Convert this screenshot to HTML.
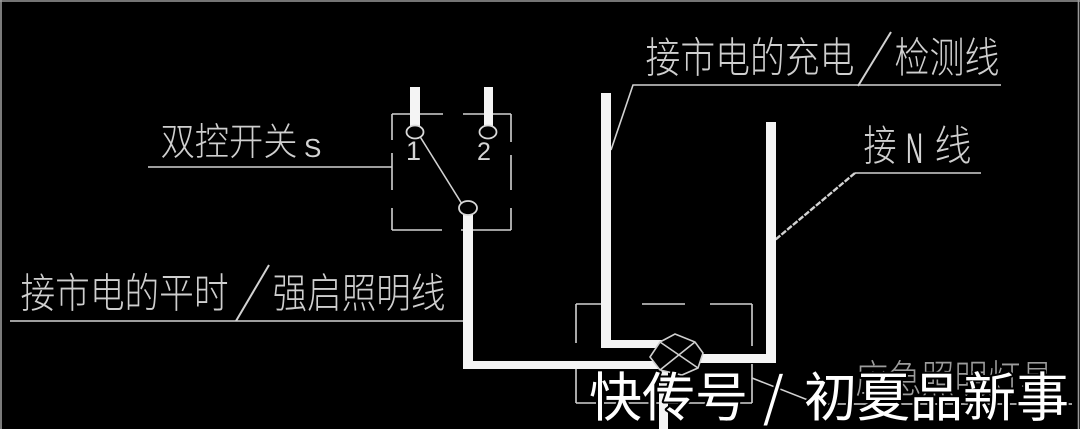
<!DOCTYPE html>
<html><head><meta charset="utf-8"><style>
html,body{margin:0;padding:0;background:#000;}
svg{display:block;}
.cad{font-family:"Noto Sans CJK SC","WenQuanYi Zen Hei",sans-serif;fill:#cfcfcf;font-weight:300;}
.lat{font-family:"Liberation Sans",sans-serif;fill:#d4d4d4;}
.wm{font-family:"Liberation Sans","Noto Sans CJK SC",sans-serif;fill:#fff;stroke:#000;stroke-width:4;paint-order:stroke;stroke-linejoin:round;}
.wms{font-family:"Noto Sans CJK SC",sans-serif;fill:#fff;stroke:#000;stroke-width:4;paint-order:stroke;stroke-linejoin:round;}
</style></head><body>
<svg width="1080" height="429" viewBox="0 0 1080 429" xmlns="http://www.w3.org/2000/svg">
<rect x="0" y="0" width="1080" height="429" fill="#000"/>
<!-- frame -->
<g stroke="#9a9a9a" stroke-width="1.6" fill="none">
<line x1="0" y1="1" x2="1080" y2="1"/>
<line x1="1" y1="0" x2="1" y2="429"/>
<line x1="1078.5" y1="0" x2="1078.5" y2="429"/>
</g>

<!-- thin lines -->
<g stroke="#d2d2d2" stroke-width="1.6" fill="none">
<line x1="148" y1="167" x2="392" y2="167"/>
<line x1="392" y1="114" x2="443" y2="114"/>
<line x1="463" y1="114" x2="511" y2="114"/>
<line x1="392" y1="230" x2="442" y2="230"/>
<line x1="461" y1="230" x2="511" y2="230"/>
<line x1="392" y1="114" x2="392" y2="140"/>
<line x1="392" y1="153" x2="392" y2="190"/>
<line x1="392" y1="208" x2="392" y2="230"/>
<line x1="511" y1="114" x2="511" y2="142"/>
<line x1="511" y1="155" x2="511" y2="190"/>
<line x1="511" y1="208" x2="511" y2="230"/>
<line x1="419" y1="135" x2="462" y2="204"/>
<polyline points="611,150 633,85 1001,85"/>
<line x1="891" y1="32" x2="858" y2="86" stroke-width="2"/>
<line x1="855" y1="173" x2="981" y2="173"/>
<line x1="855" y1="173" x2="775" y2="240" stroke-width="2.4" stroke-dasharray="6 1.5"/>
<line x1="10" y1="321" x2="463" y2="321"/>
<line x1="269" y1="265" x2="236" y2="321" stroke-width="2"/>
<line x1="576" y1="304" x2="609" y2="304"/>
<line x1="642" y1="304" x2="685" y2="304"/>
<line x1="710" y1="304" x2="752" y2="304"/>
<line x1="576" y1="304" x2="576" y2="343"/>
<line x1="576" y1="368" x2="576" y2="403"/>
<line x1="752" y1="304" x2="752" y2="346"/>
<line x1="752" y1="364" x2="752" y2="403"/>
<line x1="576" y1="403" x2="752" y2="403"/>
<polyline points="752,378 818,404 1072,404"/>
</g>

<!-- thick wires -->
<g fill="#f4f4f4">
<rect x="410" y="87" width="10" height="42"/>
<rect x="484" y="87" width="9" height="42"/>
<rect x="463" y="210" width="10" height="159"/>
<rect x="463" y="361" width="195" height="8"/>
<rect x="601" y="93" width="10" height="255"/>
<rect x="601" y="340" width="62" height="8"/>
<rect x="766" y="122" width="10" height="241"/>
<rect x="695" y="354" width="81" height="9"/>
<rect x="659" y="368" width="9" height="61"/>
</g>

<!-- terminals -->
<g stroke="#d8d8d8" stroke-width="1.8" fill="#000">
<ellipse cx="415" cy="132" rx="8.5" ry="6.5"/>
<ellipse cx="488" cy="132" rx="8.5" ry="6.5"/>
<ellipse cx="468" cy="208" rx="9" ry="7"/>
</g>

<!-- lamp -->
<g stroke="#cfcfcf" stroke-width="1.6">
<polygon points="660,342 675,334 695,342 703,353 698,368 682,375 660,370 650,357" fill="#000"/>
<line x1="660" y1="342" x2="698" y2="368"/>
<line x1="695" y1="342" x2="660" y2="370"/>
</g>

<!-- labels -->
<text class="lat" x="406" y="160" font-size="27">1</text>
<text class="lat" x="477" y="160" font-size="25">2</text>

<text class="cad" x="160.5" y="155" font-size="38" textLength="137" lengthAdjust="spacingAndGlyphs">双控开关</text>
<text class="lat" x="304" y="157" font-size="26">S</text>

<text class="cad" x="645.5" y="72.5" font-size="42" textLength="209" lengthAdjust="spacingAndGlyphs">接市电的充电</text>
<text class="cad" x="894.5" y="72.5" font-size="42" textLength="105" lengthAdjust="spacingAndGlyphs">检测线</text>

<text class="cad" x="863.5" y="160.5" font-size="42" textLength="33" lengthAdjust="spacingAndGlyphs">接</text>
<text class="lat" x="906" y="163" font-size="43" textLength="17" lengthAdjust="spacingAndGlyphs">N</text>
<text class="cad" x="934.5" y="160.5" font-size="42" textLength="37" lengthAdjust="spacingAndGlyphs">线</text>

<text class="cad" x="20.5" y="307.5" font-size="41" textLength="208" lengthAdjust="spacingAndGlyphs">接市电的平时</text>
<text class="cad" x="272.5" y="307.5" font-size="41" textLength="173" lengthAdjust="spacingAndGlyphs">强启照明线</text>

<text class="cad" x="855.5" y="393" font-size="39" textLength="198" lengthAdjust="spacingAndGlyphs" style="fill:#9c9c9c">应急照明灯具</text>

<!-- watermark -->
<text class="wm" x="589" y="416" font-size="53">快传号</text>
<text class="wms" x="763" y="416" font-size="53">/</text>
<text class="wm" x="804" y="416" font-size="53">初夏品新事</text>
</svg>
</body></html>
